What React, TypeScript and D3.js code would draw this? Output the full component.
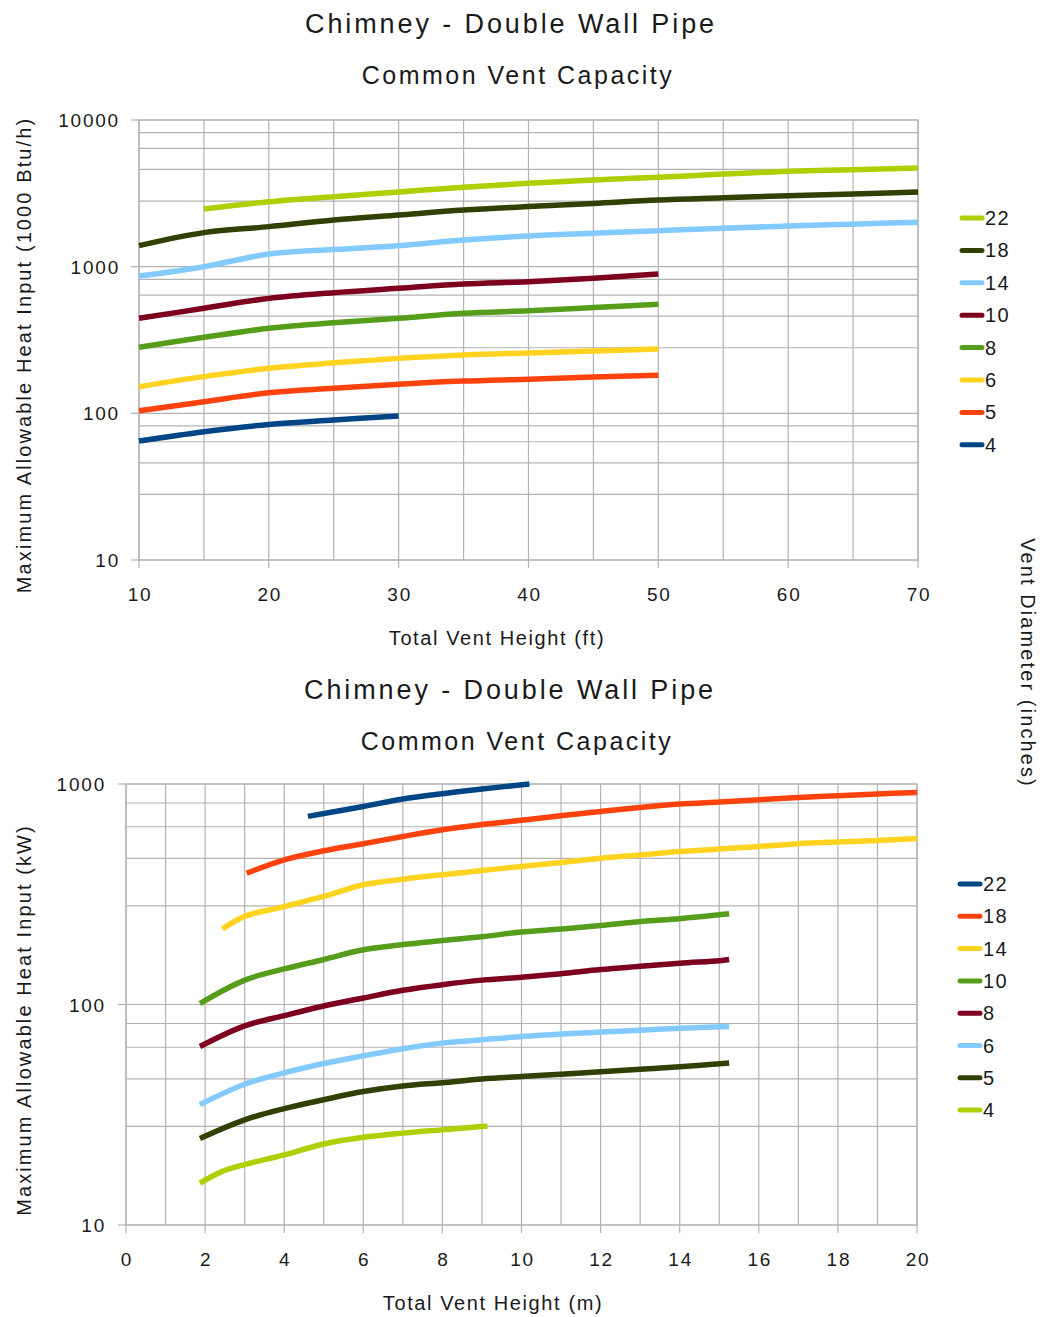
import React from 'react';
import * as d3 from 'd3';

// ---------- Data ----------
const diameters = ['22', '18', '14', '10', '8', '6', '5', '4'];

// Top chart: Total vent height (ft) vs heat input (1000 Btu/h)
const ftHeights = [10, 15, 20, 25, 30, 35, 40, 45, 50, 55, 60, 65, 70];
const btu22 = [null, 2470, 2770, 3000, 3230, 3480, 3700, 3900, 4065, 4280, 4470, 4580, 4710];
const btu18 = [1390, 1706, 1875, 2080, 2250, 2430, 2570, 2700, 2850, 2950, 3050, 3130, 3230];
const btu14 = [863, 1000, 1220, 1310, 1390, 1520, 1620, 1690, 1760, 1830, 1890, 1950, 2010];
const btu10 = [445, 520, 608, 665, 712, 762, 790, 834, 892];
const btu8 = [282, 330, 380, 415, 445, 481, 501, 526, 554];
const btu6 = [152, 178, 203, 221, 237, 250, 258, 266, 275];
const btu5 = [104, 120, 138, 148, 158, 166, 171, 177, 182];
const btu4 = [64.7, 75, 84, 90, 96];

// Bottom chart: Total vent height (m) vs heat input (kW)
const m22 = [4.6, 6, 7, 8, 9, 10.2];
const kw22 = [713, 791, 855, 904, 949, 1000];
const m18 = [3.05, 4, 5, 6, 7, 8, 9, 10, 11, 12, 13, 14, 15, 16, 17, 18, 19, 20];
const kw18 = [394, 453, 498, 536, 578, 620, 655, 685, 718, 751, 783, 811, 829, 848, 869, 885, 901, 916];
const m14 = [2.44, 3, 4, 5, 6, 7, 8, 9, 10, 11, 12, 13, 14, 15, 16, 17, 18, 19, 20];
const kw14 = [220, 251, 278, 309, 349, 370, 388, 405, 423, 441, 461, 477, 494, 507, 521, 536, 546, 555, 566];
const m10 = [1.87, 3, 4, 5, 6, 7, 8, 9, 10, 11, 12, 13, 14, 15, 15.25];
const kw10 = [101, 129, 145, 160, 177, 187, 195, 203, 213, 220, 228, 238, 245, 255, 258];
const kw8 = [64.5, 80, 89, 98.5, 107, 116, 123, 129, 133, 138, 144, 149, 154, 158, 160];
const m6 = [1.87, 3, 4, 5, 6, 7, 8, 9, 10, 11, 12, 13, 14, 15.25];
const kw6 = [35.2, 43.5, 49, 54, 58.5, 63, 66.8, 69.2, 71.6, 73.5, 75, 76.5, 78, 79.5];
const kw5 = [24.7, 30, 33.7, 37, 40.3, 42.7, 44.2, 45.9, 47.1, 48.3, 49.5, 50.8, 52.2, 54.3];
const m4 = [1.87, 2.44, 3, 4, 5, 6, 7, 8, 9.14];
const kw4 = [15.5, 17.5, 18.8, 20.8, 23.3, 25, 26.1, 27, 28.1];

const ftTicks = [10, 20, 30, 40, 50, 60, 70];
const ftGrid = [10, 15, 20, 25, 30, 35, 40, 45, 50, 55, 60, 65, 70];
const mTicks = [0, 2, 4, 6, 8, 10, 12, 14, 16, 18, 20];
const mGrid = d3.range(0, 21);
const btuTicks = [10, 100, 1000, 10000];
const kwTicks = [10, 100, 1000];

// LibreOffice default palette
const palette = ['#004586', '#ff420e', '#ffd320', '#579d1c', '#7e0021', '#83caff', '#314004', '#aecf00'];

type Series = { name: string; xs: number[]; ys: (number | null)[]; color: string };

const topSeries: Series[] = [
  { name: diameters[0], xs: ftHeights, ys: btu22, color: palette[7] },
  { name: diameters[1], xs: ftHeights, ys: btu18, color: palette[6] },
  { name: diameters[2], xs: ftHeights, ys: btu14, color: palette[5] },
  { name: diameters[3], xs: ftHeights, ys: btu10, color: palette[4] },
  { name: diameters[4], xs: ftHeights, ys: btu8, color: palette[3] },
  { name: diameters[5], xs: ftHeights, ys: btu6, color: palette[2] },
  { name: diameters[6], xs: ftHeights, ys: btu5, color: palette[1] },
  { name: diameters[7], xs: ftHeights, ys: btu4, color: palette[0] },
];

const bottomSeries: Series[] = [
  { name: diameters[0], xs: m22, ys: kw22, color: palette[0] },
  { name: diameters[1], xs: m18, ys: kw18, color: palette[1] },
  { name: diameters[2], xs: m14, ys: kw14, color: palette[2] },
  { name: diameters[3], xs: m10, ys: kw10, color: palette[3] },
  { name: diameters[4], xs: m10, ys: kw8, color: palette[4] },
  { name: diameters[5], xs: m6, ys: kw6, color: palette[5] },
  { name: diameters[6], xs: m6, ys: kw5, color: palette[6] },
  { name: diameters[7], xs: m4, ys: kw4, color: palette[7] },
];

const FONT = '"Liberation Sans", Arial, sans-serif';
const GRID = '#b3b3b3';
const TEXT = '#1a1a1a';

type ChartProps = {
  x0: number; x1: number; y0: number; y1: number;
  xDomain: [number, number]; yDomain: [number, number];
  xGrid: number[]; xTicks: number[]; yTicks: number[];
  series: Series[];
  title: { x: number; y: number };
  subtitle: { x: number; y: number };
  yLabel: string; yLabelX: number; yLabelY: number;
  xLabel: string; xLabelX: number; xLabelY: number;
  yTickRight: number; xTickY: number;
  legendX: number; legendY0: number; legendStep: number;
};

function Chart(p: ChartProps) {
  const x = d3.scaleLinear().domain(p.xDomain).range([p.x0, p.x1]);
  const y = d3.scaleLog().domain(p.yDomain).range([p.y1, p.y0]);
  const minor: number[] = [];
  const decades = p.yTicks.slice(0, -1);
  decades.forEach((b) => {
    for (let k = 1; k <= 4; k++) minor.push(b * (1 + 1.8 * k));
  });
  const line = d3
    .line<[number, number | null]>()
    .defined((d) => d[1] != null)
    .x((d) => x(d[0]))
    .y((d) => y(d[1] as number))
    .curve(d3.curveCatmullRom.alpha(0.5));

  return (
    <g fontFamily={FONT} fill={TEXT}>
      <text x={p.title.x} y={p.title.y} fontSize={27} textAnchor="middle" letterSpacing="2.9">
        Chimney - Double Wall Pipe
      </text>
      <text x={p.subtitle.x} y={p.subtitle.y} fontSize={25} textAnchor="middle" letterSpacing="2.5">
        Common Vent Capacity
      </text>
      {/* grid */}
      {[...minor, ...p.yTicks].map((v, i) => (
        <line key={'h' + i} x1={p.x0} x2={p.x1} y1={y(v)} y2={y(v)} stroke={GRID} strokeWidth={1.2} />
      ))}
      {p.yTicks.map((v, i) => (
        <line key={'yt' + i} x1={p.x0 - 8} x2={p.x0} y1={y(v)} y2={y(v)} stroke={GRID} strokeWidth={1.2} />
      ))}
      {p.xGrid.map((v, i) => (
        <line key={'v' + i} x1={x(v)} x2={x(v)} y1={p.y0} y2={p.y1} stroke={GRID} strokeWidth={1.2} />
      ))}
      {p.xTicks.map((v, i) => (
        <line key={'xt' + i} x1={x(v)} x2={x(v)} y1={p.y1} y2={p.y1 + 8} stroke={GRID} strokeWidth={1.2} />
      ))}
      <rect x={p.x0} y={p.y0} width={p.x1 - p.x0} height={p.y1 - p.y0} fill="none" stroke={GRID} strokeWidth={1.2} />
      {/* tick labels */}
      {p.yTicks.map((v, i) => (
        <text key={'yl' + i} x={p.yTickRight} y={y(v) + 7} fontSize={19} textAnchor="end" letterSpacing="1.8">
          {String(v)}
        </text>
      ))}
      {p.xTicks.map((v, i) => (
        <text key={'xl' + i} x={x(v) + 1} y={p.xTickY} fontSize={19} textAnchor="middle" letterSpacing="1.8">
          {String(v)}
        </text>
      ))}
      {/* axis titles */}
      <text
        x={0} y={0} fontSize={20} textAnchor="middle" letterSpacing="2.1"
        transform={`translate(${p.yLabelX},${p.yLabelY}) rotate(-90)`}
      >
        {p.yLabel}
      </text>
      <text x={p.xLabelX} y={p.xLabelY} fontSize={20} textAnchor="middle" letterSpacing="1.6">
        {p.xLabel}
      </text>
      {/* series */}
      {p.series.map((s) => {
        const pts: [number, number | null][] = s.xs.map((xv, i) => [xv, i < s.ys.length ? s.ys[i] : null]);
        return (
          <path key={'s' + s.name} d={line(pts) || ''} fill="none" stroke={s.color} strokeWidth={5.5} strokeLinejoin="round" />
        );
      })}
      {/* legend */}
      {p.series.map((s, i) => {
        const ly = p.legendY0 + i * p.legendStep;
        return (
          <g key={'lg' + s.name}>
            <line x1={p.legendX + 2} x2={p.legendX + 22} y1={ly} y2={ly} stroke={s.color} strokeWidth={5} strokeLinecap="round" />
            <text x={p.legendX + 25} y={ly + 7} fontSize={20} letterSpacing="1.5">{s.name}</text>
          </g>
        );
      })}
    </g>
  );
}

export default function App() {
  return (
    <svg width={1043} height={1317} style={{ position: 'absolute', left: 0, top: 0, background: '#fff' }}>
      <rect width={1043} height={1317} fill="#fff" />
      <Chart
        x0={139} x1={918} y0={120} y1={560}
        xDomain={[10, 70]} yDomain={[10, 10000]}
        xGrid={ftGrid} xTicks={ftTicks} yTicks={btuTicks}
        series={topSeries}
        title={{ x: 511, y: 33 }} subtitle={{ x: 518, y: 84 }}
        yLabel="Maximum Allowable Heat Input (1000 Btu/h)" yLabelX={31} yLabelY={355}
        xLabel="Total Vent Height (ft)" xLabelX={497} xLabelY={645}
        yTickRight={120} xTickY={601}
        legendX={960} legendY0={218} legendStep={32.4}
      />
      <Chart
        x0={126} x1={917} y0={784} y1={1225}
        xDomain={[0, 20]} yDomain={[10, 1000]}
        xGrid={mGrid} xTicks={mTicks} yTicks={kwTicks}
        series={bottomSeries}
        title={{ x: 510, y: 699 }} subtitle={{ x: 517, y: 750 }}
        yLabel="Maximum Allowable Heat Input (kW)" yLabelX={31} yLabelY={1020}
        xLabel="Total Vent Height (m)" xLabelX={493} xLabelY={1310}
        yTickRight={106} xTickY={1266}
        legendX={958} legendY0={884} legendStep={32.3}
      />
      <text
        x={0} y={0} fontFamily={FONT} fontSize={20} textAnchor="middle" letterSpacing="2.1" fill={TEXT}
        transform="translate(1021,663) rotate(90)"
      >
        Vent Diameter (inches)
      </text>
    </svg>
  );
}
